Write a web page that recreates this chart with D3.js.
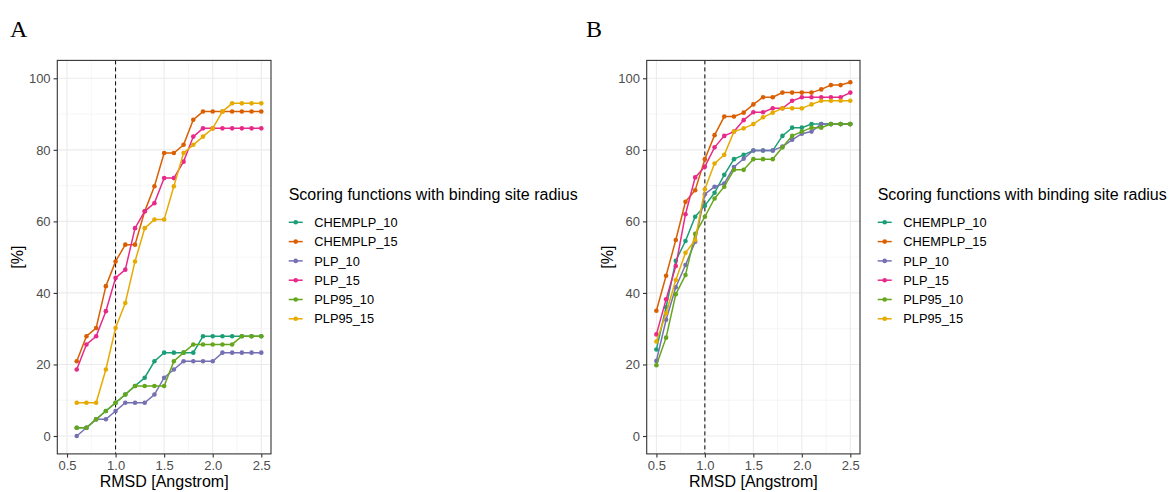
<!DOCTYPE html>
<html><head><meta charset="utf-8">
<script src="https://cdn.jsdelivr.net/npm/d3@7"></script>
<style>body{margin:0;background:#fff;} svg{display:block;}</style>
</head><body>
<svg id="chart" width="1170" height="492"></svg>
<script>
const seriesNames = ["CHEMPLP_10","CHEMPLP_15","PLP_10","PLP_15","PLP95_10","PLP95_15"];
const seriesColors = ["#1B9E77","#D95F02","#7570B3","#E7298A","#66A61E","#E6AB02"];
const xTicks = [0.5,1.0,1.5,2.0,2.5];
const yTicks = [0,20,40,60,80,100];
const legendTitle = "Scoring functions with binding site radius";
const xTitle = "RMSD [Angstrom]";
const yTitle = "[%]";

const rmsdA = [0.6,0.7,0.8,0.9,1.0,1.1,1.2,1.3,1.4,1.5,1.6,1.7,1.8,1.9,2.0,2.1,2.2,2.3,2.4,2.5];
const chemplp10A = [2.3,2.3,4.7,7.0,9.3,11.6,14.0,16.3,20.9,23.3,23.3,23.3,23.3,27.9,27.9,27.9,27.9,27.9,27.9,27.9];
const chemplp15A = [20.9,27.9,30.2,41.9,48.8,53.5,53.5,62.8,69.8,79.1,79.1,81.4,88.4,90.7,90.7,90.7,90.7,90.7,90.7,90.7];
const plp10A = [0,2.3,4.7,4.7,7.0,9.3,9.3,9.3,11.6,16.3,18.6,20.9,20.9,20.9,20.9,23.3,23.3,23.3,23.3,23.3];
const plp15A = [18.6,25.6,27.9,34.9,44.2,46.5,58.1,62.8,65.1,72.1,72.1,76.7,83.7,86.0,86.0,86.0,86.0,86.0,86.0,86.0];
const plp95_10A = [2.3,2.3,4.7,7.0,9.3,11.6,14.0,14.0,14.0,14.0,20.9,23.3,25.6,25.6,25.6,25.6,25.6,27.9,27.9,27.9];
const plp95_15A = [9.3,9.3,9.3,18.6,30.2,37.2,48.8,58.1,60.5,60.5,69.8,79.1,81.4,83.7,86.0,90.7,93.0,93.0,93.0,93.0];

const rmsdB = [0.5,0.6,0.7,0.8,0.9,1.0,1.1,1.2,1.3,1.4,1.5,1.6,1.7,1.8,1.9,2.0,2.1,2.2,2.3,2.4,2.5];
const chemplp10B = [24.2,36.0,49.0,54.5,61.3,64.4,68.0,73.0,77.4,78.6,79.8,79.8,79.8,83.9,86.2,86.2,87.2,87.2,87.2,87.2,87.2];
const chemplp15B = [35.0,44.8,54.8,65.5,68.7,77.4,84.1,89.3,89.3,90.4,92.7,94.7,94.7,96.0,96.0,96.0,96.0,96.9,98.1,98.1,98.9];
const plp10B = [21.0,32.5,41.6,47.8,54.3,67.6,69.7,70.6,75.2,77.5,79.8,79.8,79.8,80.9,82.8,84.5,85.1,87.2,87.2,87.2,87.2];
const plp15B = [28.4,38.2,47.5,62.0,72.3,75.3,80.7,83.9,85.1,88.3,90.5,90.5,91.6,91.6,93.7,94.7,94.7,94.7,94.7,94.7,96.0];
const plp95_10B = [19.8,27.5,39.6,45.0,56.5,61.3,66.4,69.7,74.4,74.4,77.4,77.4,77.4,80.7,83.9,85.1,86.2,86.2,87.2,87.2,87.2];
const plp95_15B = [26.4,34.3,43.6,51.2,54.8,69.0,76.2,78.6,85.1,86.0,87.2,89.1,90.4,91.6,91.6,91.6,92.7,93.7,93.7,93.7,93.7];

const panels = [
  {label:"A", x:rmsdA, ys:[chemplp10A,chemplp15A,plp10A,plp15A,plp95_10A,plp95_15A], left:57.3, right:271, labelX:10},
  {label:"B", x:rmsdB, ys:[chemplp10B,chemplp15B,plp10B,plp15B,plp95_10B,plp95_15B], left:646.7, right:860, labelX:586}
];

const svg = d3.select("#chart");
const FONT = "'Liberation Sans', Arial, sans-serif";
const plotTop = 60.4, plotBottom = 453.9;

panels.forEach(p => {
  const g = svg.append("g");
  const x = d3.scaleLinear().domain([0.4, 2.6]).range([p.left, p.right]);
  const y = d3.scaleLinear().domain([-5, 105]).range([plotBottom, plotTop]);

  const xMinor = [0.75,1.25,1.75,2.25];
  const yMinor = [10,30,50,70,90];
  g.selectAll(".xmin").data(xMinor).join("line")
    .attr("x1",d=>x(d)).attr("x2",d=>x(d)).attr("y1",plotTop).attr("y2",plotBottom)
    .attr("stroke","#F0F0F0").attr("stroke-width",0.6);
  g.selectAll(".ymin").data(yMinor).join("line")
    .attr("x1",p.left).attr("x2",p.right).attr("y1",d=>y(d)).attr("y2",d=>y(d))
    .attr("stroke","#F0F0F0").attr("stroke-width",0.6);
  g.selectAll(".xmaj").data(xTicks).join("line")
    .attr("x1",d=>x(d)).attr("x2",d=>x(d)).attr("y1",plotTop).attr("y2",plotBottom)
    .attr("stroke","#EBEBEB").attr("stroke-width",1.1);
  g.selectAll(".ymaj").data(yTicks).join("line")
    .attr("x1",p.left).attr("x2",p.right).attr("y1",d=>y(d)).attr("y2",d=>y(d))
    .attr("stroke","#EBEBEB").attr("stroke-width",1.1);

  g.append("line").attr("x1",x(1)).attr("x2",x(1)).attr("y1",plotTop).attr("y2",plotBottom)
    .attr("stroke","#000").attr("stroke-width",1).attr("stroke-dasharray","4,3");

  const line = d3.line().x(d=>x(d[0])).y(d=>y(d[1]));
  p.ys.forEach((vals,i) => {
    const pts = p.x.map((xv,j)=>[xv, vals[j]]);
    g.append("path").datum(pts).attr("d",line).attr("fill","none")
      .attr("stroke",seriesColors[i]).attr("stroke-width",1.5);
    g.selectAll(null).data(pts).join("circle")
      .attr("cx",d=>x(d[0])).attr("cy",d=>y(d[1])).attr("r",2.3)
      .attr("fill",seriesColors[i]);
  });

  g.append("rect").attr("x",p.left).attr("y",plotTop).attr("width",p.right-p.left).attr("height",plotBottom-plotTop)
    .attr("fill","none").attr("stroke","#333").attr("stroke-width",1.1);

  const xAxis = d3.axisBottom(x).tickValues(xTicks).tickFormat(d3.format(".1f")).tickSize(3.7).tickPadding(3);
  const gx = g.append("g").attr("transform",`translate(0,${plotBottom})`).call(xAxis);
  const yAxis = d3.axisLeft(y).tickValues(yTicks).tickSize(3.7).tickPadding(3);
  const gy = g.append("g").attr("transform",`translate(${p.left},0)`).call(yAxis);
  [gx,gy].forEach(a => {
    a.select(".domain").remove();
    a.selectAll(".tick line").attr("stroke","#333").attr("stroke-width",1.1);
    a.selectAll(".tick text").attr("fill","#4D4D4D").style("font-family",FONT).style("font-size","13px");
  });

  g.append("text").attr("x",(p.left+p.right)/2).attr("y",487).attr("text-anchor","middle")
    .style("font-family",FONT).style("font-size","16px").attr("fill","#000").text(xTitle);
  g.append("text").attr("transform",`translate(${p.left-34},${(plotTop+plotBottom)/2}) rotate(-90)`)
    .attr("text-anchor","middle").style("font-family",FONT).style("font-size","16px").attr("fill","#000").text(yTitle);

  svg.append("text").attr("x",p.labelX).attr("y",37)
    .style("font-family","'Liberation Serif', 'DejaVu Serif', serif").style("font-size","24px").attr("fill","#000").text(p.label);

  const lx = p.right + 17.7;
  const lg = g.append("g");
  lg.append("text").attr("x",lx).attr("y",200).style("font-family",FONT).style("font-size","16px").attr("fill","#000").text(legendTitle);
  seriesNames.forEach((nm,i) => {
    const cy = 222.3 + i*19.3;
    lg.append("line").attr("x1",lx).attr("x2",lx+14).attr("y1",cy).attr("y2",cy)
      .attr("stroke",seriesColors[i]).attr("stroke-width",1.5);
    lg.append("circle").attr("cx",lx+7).attr("cy",cy).attr("r",2.3).attr("fill",seriesColors[i]);
    lg.append("text").attr("x",lx+25.6).attr("y",cy).attr("dy","0.36em")
      .style("font-family",FONT).style("font-size","12.8px").attr("fill","#000").text(nm);
  });
});
</script>
</body></html>
